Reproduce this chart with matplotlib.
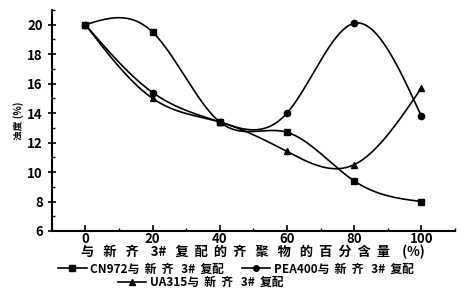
import numpy as np
import matplotlib
matplotlib.use("Agg")
import matplotlib.pyplot as plt
from matplotlib.lines import Line2D

plt.rcParams['font.family'] = ['Noto Sans CJK SC', 'DejaVu Sans']
plt.rcParams['font.weight'] = 'bold'

x = [0, 20, 40, 60, 80, 100]
cn972 = [20.0, 19.5, 13.4, 12.7, 9.4, 8.0]
pea400 = [20.0, 15.4, 13.4, 14.0, 20.1, 13.8]
ua315 = [20.0, 15.0, 13.4, 11.4, 10.5, 15.7]
names = ["CN972与  新  齐   3#  复配", "PEA400与  新  齐   3#  复配", "UA315与  新  齐   3#  复配"]
xticks = [0, 20, 40, 60, 80, 100]
yticks = [6, 8, 10, 12, 14, 16, 18, 20]


def spline(xs, ys, n=300):
    xs = np.asarray(xs, float); ys = np.asarray(ys, float)
    m = len(xs); h = np.diff(xs)
    A = np.zeros((m, m)); b = np.zeros(m)
    A[0, 0] = A[-1, -1] = 1
    for i in range(1, m - 1):
        A[i, i - 1] = h[i - 1]; A[i, i] = 2 * (h[i - 1] + h[i]); A[i, i + 1] = h[i]
        b[i] = 6 * ((ys[i + 1] - ys[i]) / h[i] - (ys[i] - ys[i - 1]) / h[i - 1])
    M = np.linalg.solve(A, b)
    xx = np.linspace(xs[0], xs[-1], n)
    idx = np.clip(np.searchsorted(xs, xx) - 1, 0, m - 2)
    x0 = xs[idx]; x1 = xs[idx + 1]; hh = x1 - x0
    yy = (M[idx] * (x1 - xx) ** 3 / (6 * hh) + M[idx + 1] * (xx - x0) ** 3 / (6 * hh)
          + (ys[idx] / hh - M[idx] * hh / 6) * (x1 - xx)
          + (ys[idx + 1] / hh - M[idx + 1] * hh / 6) * (xx - x0))
    return xx, yy


fig = plt.figure(figsize=(4.67, 2.95), dpi=100)
ax = fig.add_axes([0.111, 0.217, 0.863, 0.749])

for ys, mk, ms in [(cn972, 's', 4), (pea400, 'o', 4.5), (ua315, '^', 5)]:
    xx, yy = spline(x, ys)
    ax.plot(xx, yy, color='black', lw=1.2)
    ax.plot(x, ys, linestyle='none', marker=mk, ms=ms, color='black')

ax.set_xlim(-10, 110)
ax.set_ylim(6, 21)
ax.set_xticks(xticks)
ax.set_yticks(yticks)
ax.set_xticks(np.arange(-10, 111, 10), minor=True)
ax.set_yticks(np.arange(6, 21.1, 1), minor=True)
ax.spines['top'].set_visible(False)
ax.spines['right'].set_visible(False)
for s in ['left', 'bottom']:
    ax.spines[s].set_linewidth(1.5)
ax.tick_params(axis='both', which='major', direction='in', length=4, width=1.2, labelsize=9.5)
ax.tick_params(axis='x', which='major', pad=1)
ax.tick_params(axis='both', which='minor', direction='in', length=2, width=1)
ax.tick_params(axis='y', direction='inout', length=6)
ax.set_xlabel("与   新   齐    3#   复  配  的  齐   聚   物   的  百  分  含  量    (%)",
              fontsize=9.5, fontweight='bold', labelpad=-1)
ax.set_ylabel("浊度 (%)", fontsize=7, fontweight='bold', labelpad=2)

h = [Line2D([], [], color='black', marker=m, ms=4, lw=1.2) for m in ['s', 'o', '^']]
fig.legend(h[:2], names[:2], loc='center', bbox_to_anchor=(0.505, 0.088), ncol=2,
           frameon=False, handlelength=2.4, handletextpad=0.3, columnspacing=1.5,
           borderpad=0, prop={'weight': 'bold', 'size': 8.5})
fig.legend(h[2:], names[2:], loc='center', bbox_to_anchor=(0.43, 0.042), ncol=1,
           frameon=False, handlelength=2.4, handletextpad=0.3, borderpad=0,
           prop={'weight': 'bold', 'size': 8.5})

fig.savefig("out.png", dpi=100)
